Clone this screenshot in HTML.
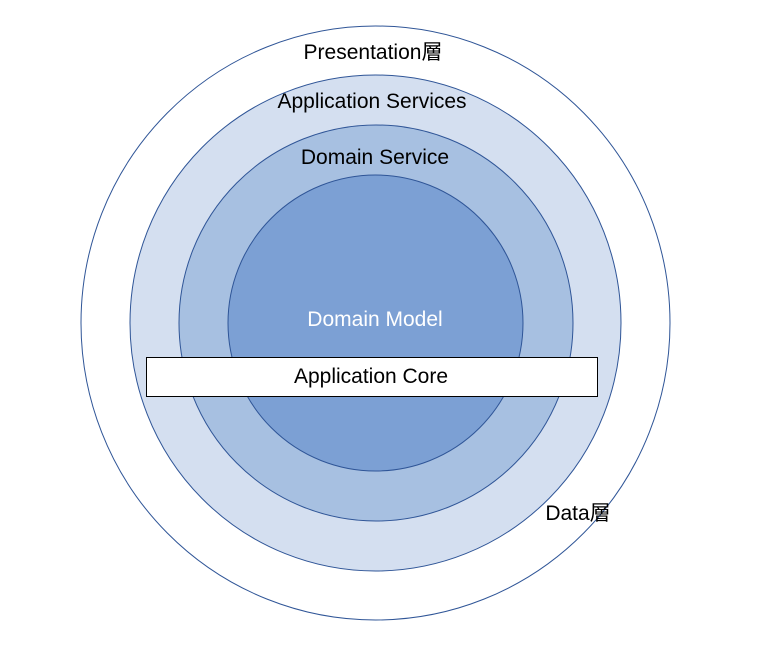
<!DOCTYPE html>
<html><head><meta charset="utf-8"><style>
html,body{margin:0;padding:0;background:#fff;}
svg{display:block}
text{font-family:"Liberation Sans","Noto Sans CJK JP",sans-serif;font-size:21px;text-anchor:middle;}
</style></head><body>
<svg width="759" height="648" viewBox="0 0 759 648">
<ellipse cx="375.5" cy="323" rx="294.5" ry="297" fill="#fff" stroke="#2f5597" stroke-width="1"/>
<ellipse cx="375.5" cy="323" rx="245.5" ry="248" fill="#d4dff0" stroke="#2f5597" stroke-width="1"/>
<ellipse cx="376" cy="323" rx="197" ry="198" fill="#a7c0e1" stroke="#2f5597" stroke-width="1"/>
<ellipse cx="375.5" cy="323" rx="147.5" ry="148" fill="#7ca0d4" stroke="#2f5597" stroke-width="1"/>
<rect x="146.5" y="357.5" width="451" height="39" fill="#fff" stroke="#000" stroke-width="1"/>
<text x="373" y="59">Presentation層</text>
<text x="372" y="108">Application Services</text>
<text x="375" y="164">Domain Service</text>
<text x="375" y="326" fill="#fff">Domain Model</text>
<text x="371" y="383">Application Core</text>
<text x="578" y="520">Data層</text>
</svg>
</body></html>
